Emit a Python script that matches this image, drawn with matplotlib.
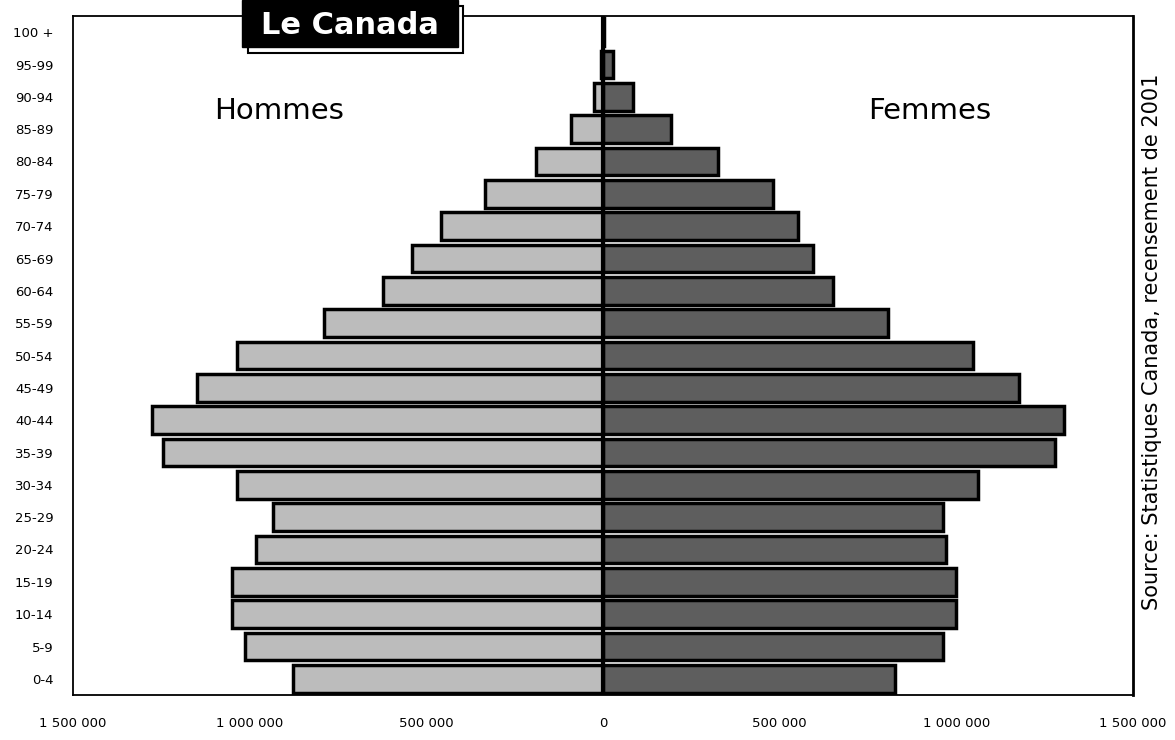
import matplotlib
matplotlib.use("Agg")
import matplotlib.pyplot as plt
from matplotlib.patches import Rectangle

age_groups = ["0-4", "5-9", "10-14", "15-19", "20-24", "25-29", "30-34",
              "35-39", "40-44", "45-49", "50-54", "55-59", "60-64", "65-69",
              "70-74", "75-79", "80-84", "85-89", "90-94", "95-99", "100 +"]
hommes = [878000, 1014000, 1051000, 1051000, 983000, 935000, 1037000,
          1246000, 1275000, 1150000, 1037000, 790000, 623000, 541000,
          459000, 334000, 190000, 91000, 25000, 6000, 1000]
femmes = [827000, 963000, 1000000, 1000000, 972000, 963000, 1062000,
          1278000, 1306000, 1176000, 1048000, 807000, 652000, 595000,
          552000, 482000, 326000, 193000, 85000, 28000, 4000]
xticks = [-1500000, -1000000, -500000, 0, 500000, 1000000, 1500000]
xtick_labels = ["1 500 000", "1 000 000", "500 000", "0", "500 000",
                "1 000 000", "1 500 000"]

W, H = 1175, 740
fig = plt.figure(figsize=(W / 100, H / 100), dpi=100)
ax = fig.add_axes([73 / W, 1 - 695 / H, (1133 - 73) / W, (695 - 16) / H])

ypos = list(range(len(age_groups)))
ax.barh(ypos, [-v for v in hommes], height=0.86, color="#bcbcbc",
        edgecolor="black", linewidth=2.5, zorder=2)
ax.barh(ypos, femmes, height=0.86, color="#5e5e5e",
        edgecolor="black", linewidth=2.5, zorder=2)
ax.axvline(0, color="black", lw=3, zorder=3)

ax.set_xlim(-1500000, 1500000)
ax.set_ylim(-0.5, len(age_groups) - 0.5)
ax.set_yticks(ypos)
ax.set_yticklabels(age_groups, fontsize=9.5)
ax.set_xticks(xticks)
ax.set_xticklabels(xtick_labels, fontsize=9.5)
ax.tick_params(axis="y", length=0, pad=14)
ax.tick_params(axis="x", length=0, pad=16)
for s in ax.spines.values():
    s.set_color("black")
    s.set_linewidth(1.3)
ax.spines["right"].set_linewidth(2)

ax.text(-918000, 17.55, "Hommes", fontsize=21, ha="center", va="center",
        family="DejaVu Sans")
ax.text(926000, 17.55, "Femmes", fontsize=21, ha="center", va="center",
        family="DejaVu Sans")

# Title box with shadow
shadow = Rectangle((248 / W, 1 - 53 / H), (463 - 248) / W, (53 - 6) / H,
                   transform=fig.transFigure, facecolor="white",
                   edgecolor="black", lw=1.5, zorder=5)
box = Rectangle((242 / W, 1 - 47 / H), (458 - 242) / W, 47 / H,
                transform=fig.transFigure, facecolor="black",
                edgecolor="black", lw=1, zorder=6)
fig.add_artist(shadow)
fig.add_artist(box)
fig.text(350 / W, 1 - 25 / H, "Le Canada", color="white", fontsize=22,
         fontweight="bold", ha="center", va="center", zorder=7,
         family="DejaVu Sans")

fig.text(1152 / W, 1 - 342 / H, "Source: Statistiques Canada, recensement de 2001",
         rotation=90, fontsize=15, ha="center", va="center",
         family="DejaVu Sans")

fig.savefig("out.png", dpi=100)
